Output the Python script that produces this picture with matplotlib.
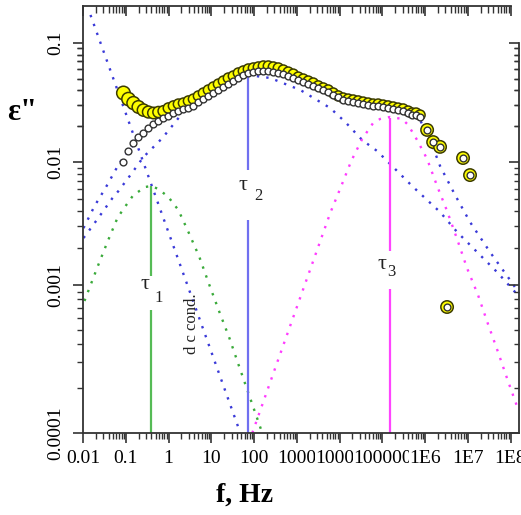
import numpy as np
import matplotlib
matplotlib.use("Agg")
import matplotlib.pyplot as plt
from matplotlib.ticker import FixedLocator, NullFormatter, FixedFormatter

plt.rcParams['font.family'] = ['Liberation Serif', 'DejaVu Serif']

# ---------------- data ----------------
freq = [0.0883, 0.1156, 0.151, 0.198, 0.259, 0.339, 0.444, 0.581, 0.760, 0.995,
        1.30, 1.70, 2.23, 2.92, 3.82, 5.00, 6.54, 8.56, 11.2, 14.7,
        19.2, 25.1, 32.8, 43.0, 56.2, 73.6, 96.4, 126, 165, 216,
        283, 370, 484, 633, 829, 1085, 1420, 1858, 2430, 3180,
        4160, 5450, 7130, 9330, 12200, 16000, 20900, 27400, 35800, 46900,
        61300, 80200, 105000, 137000, 180000, 235000, 308000, 403000, 499000, 619000, 767000,
        1.12e6, 1.55e6, 2.25e6, 3.28e6, 7.76e6, 1.13e7]

eps_total = [0.0380, 0.0338, 0.0313, 0.0290, 0.0273, 0.0263, 0.0258, 0.0263, 0.0268, 0.0284,
             0.0296, 0.0307, 0.0313, 0.0326, 0.0338, 0.0359, 0.0380, 0.0403, 0.0427, 0.0452,
             0.0479, 0.0508, 0.0528, 0.0560, 0.0582, 0.0605, 0.0617, 0.0629, 0.0641, 0.0641,
             0.0629, 0.0617, 0.0593, 0.0570, 0.0548, 0.0517, 0.0498, 0.0479, 0.0461, 0.0436,
             0.0419, 0.0403, 0.0380, 0.0359, 0.0345, 0.0338, 0.0332, 0.0326, 0.0319, 0.0313,
             0.0307, 0.0307, 0.0301, 0.0296, 0.0290, 0.0284, 0.0279, 0.0268, 0.0258, 0.0258, 0.0248,
             0.0186, 0.0147, 0.0134, 0.00071, 0.0108, 0.00783]

eps_corr = [0.0100, 0.01236, 0.01445, 0.0162, 0.0175, 0.0193, 0.0209, 0.0221, 0.0234, 0.0244,
            0.0258, 0.0268, 0.0279, 0.0284, 0.0296, 0.0319, 0.0338, 0.0359, 0.0380, 0.0403,
            0.0427, 0.0452, 0.0479, 0.0508, 0.0538, 0.0560, 0.0570, 0.0582, 0.0582, 0.0582,
            0.0570, 0.0560, 0.0548, 0.0528, 0.0508, 0.0489, 0.0470, 0.0452, 0.0436, 0.0419,
            0.0403, 0.0387, 0.0366, 0.0352,
            0.0332, 0.0326, 0.0319, 0.0313, 0.0307, 0.0301, 0.0296, 0.0296, 0.0290, 0.0284,
            0.0279, 0.0273, 0.0268, 0.0258, 0.0248, 0.0248, 0.0239,
            0.0186, 0.0147, 0.0134, 0.00071, 0.0108, 0.00783]

# dc conduction line
dc_f = [0.01496, 2.765, 47.9]
dc_e = [0.172, 0.001, 1e-4]

# relaxation tau1 (green)
t1_f = [0.01083, 0.0218, 0.0373, 0.0640, 0.0883, 0.151, 0.289, 0.398, 0.581, 0.995,
        1.70, 2.92, 5.27, 9.03, 15.5, 26.5, 45.4, 156]
t1_e = [0.00078, 0.0014, 0.00224, 0.00351, 0.00415, 0.00539, 0.00627, 0.00638, 0.00603, 0.00519,
        0.00407, 0.00270, 0.00169, 0.001, 0.000657, 0.000439, 0.000279, 1e-4]

# relaxation tau2 (blue)
t2_f = [0.01027, 0.01667, 0.0286, 0.0489, 0.0675, 0.129, 0.259, 0.378, 0.719, 1.45,
        2.11, 5.56, 16.3, 73.6, 240, 1208, 6070, 13600, 33900, 76000,
        170000, 499000, 1.12e6, 2.25e6, 5.62e6, 1.74e7, 5.11e7, 1.27e8, 1.58e8]
t2_e = [0.00241, 0.00302, 0.00392, 0.00509, 0.00581, 0.00784, 0.0110, 0.0126, 0.0159, 0.0217,
        0.0258, 0.0352, 0.0452, 0.0538, 0.0508, 0.0403, 0.0284, 0.0217, 0.0153, 0.01236,
        0.00928, 0.00638, 0.00491, 0.00392, 0.00270, 0.00182, 0.00125, 0.000897, 0.000843]

# relaxation tau3 (magenta)
t3_f = [91.2, 332, 6070, 11000, 18800, 33900, 61300, 89300, 153000, 292000,
        403000, 653000, 1.12e6, 1.92e6, 3.28e6, 5.62e6, 9.63e6, 1.74e7, 2.98e7, 5.11e7,
        8.75e7, 1.50e8]
t3_e = [1e-4, 0.000288, 0.00385, 0.00638, 0.01019, 0.0156, 0.0213, 0.0230, 0.0239, 0.0230,
        0.0205, 0.0153, 0.0106, 0.00638, 0.00400, 0.00237, 0.00137, 0.000855, 0.000544, 0.000352,
        0.000224, 0.000145]

# sum of relaxations (blue)
fit_f = [0.01027, 0.01858, 0.0336, 0.0713, 0.0984, 0.1687, 0.378, 0.847, 1.90, 5.56,
         16.3, 47.9, 140, 411, 1208, 3540, 10400, 30500, 89300, 262000,
         767000, 1.32e6, 2.25e6, 5.05e6, 1.13e7, 3.32e7, 9.73e7, 1.58e8]
fit_e = [0.00290, 0.00438, 0.00615, 0.00982, 0.01146, 0.01472, 0.0193, 0.0234, 0.0273, 0.0332,
         0.0427, 0.0518, 0.0582, 0.0560, 0.0489, 0.0410, 0.0345, 0.0313, 0.0296, 0.0273,
         0.0225, 0.0153, 0.00928, 0.00539, 0.00325, 0.00185, 0.00110, 0.000883]

# relaxation times markers (vertical lines)
tau_freq = [0.398, 73.6, 153000]
tau_top = [0.0064, 0.0518, 0.0234]
tau_gap_hi = [0.00118, 0.0086, 0.00189]
tau_gap_lo = [0.000678, 0.00338, 0.00094]

xtick_vals = [0.01, 0.1, 1, 10, 100, 1000, 10000, 100000, 1e6, 1e7, 1e8]
xtick_labels = ['0.01', '0.1', '1', '10', '100', '1000', '10000', '100000', '1E6', '1E7', '1E8']
ytick_vals = [1e-4, 1e-3, 1e-2, 1e-1]
ytick_labels = ['0.0001', '0.001', '0.01', '0.1']

# ---------------- y scale (piecewise log, as in the picture) ----------------
_LOG = np.array([-6.0, -4.0, -3.0, -2.0, -1.0, 1.0])
_PIX = np.array([433 + 2 * 148, 433, 285, 162, 43, 43 - 2 * 119], dtype=float)


def fwd(y):
    y = np.asarray(y, dtype=float)
    with np.errstate(divide='ignore', invalid='ignore'):
        v = np.log10(np.where(y > 0, y, 1e-12))
    return -np.interp(v, _LOG, _PIX)


def inv(u):
    u = np.asarray(u, dtype=float)
    v = np.interp(-u, _PIX[::-1], _LOG[::-1])
    return 10.0 ** v


W, H = 521, 515
fig = plt.figure(figsize=(W / 100, H / 100), dpi=100)
ax = fig.add_axes([83 / W, 1 - 433 / H, 436 / W, 427 / H])
ax.set_xscale('log')
ax.set_yscale('function', functions=(fwd, inv))
XLIM = (0.01, 1.58e8)
YLIM = (1e-4, 0.2046)
ax.set_xlim(*XLIM)
ax.set_ylim(*YLIM)

blue = '#3a3ad8'
green = '#3aaa3a'
magenta = '#ff3cff'
dot = (0, (1, 3.0))
lw = 1.7

ax.plot(dc_f, dc_e, color=blue, lw=lw, ls=dot, zorder=2)
ax.plot(t1_f, t1_e, color=green, lw=lw, ls=dot, zorder=2)
ax.plot(t2_f, t2_e, color=blue, lw=lw, ls=dot, zorder=2)
ax.plot(fit_f, fit_e, color=blue, lw=lw, ls=dot, zorder=2)
ax.plot(t3_f, t3_e, color=magenta, lw=lw, ls=dot, zorder=2)

vcols = ['#55bb55', '#7070f0', '#ff44ff']
for f, top, ghi, glo, c in zip(tau_freq, tau_top, tau_gap_hi, tau_gap_lo, vcols):
    ax.plot([f, f], [top, ghi], color=c, lw=1.6, solid_capstyle='butt', zorder=2)
    ax.plot([f, f], [glo, 1e-4], color=c, lw=1.6, solid_capstyle='butt', zorder=2)

# labels of relaxation times
ax.text(0.288, 0.001, 'τ', fontsize=16, ha='center', va='center', color='#222')
ax.text(0.60, 0.00082, '1', fontsize=12, ha='center', va='center', color='#222')
ax.text(56.2, 0.0065, 'τ', fontsize=16, ha='center', va='center', color='#222')
ax.text(130, 0.0053, '2', fontsize=12, ha='center', va='center', color='#222')
ax.text(99500, 0.00146, 'τ', fontsize=16, ha='center', va='center', color='#222')
ax.text(165000, 0.00127, '3', fontsize=12, ha='center', va='center', color='#222')
ax.text(3.61, 0.00055, 'd c cond.', fontsize=12, rotation=90, ha='center', va='center', color='#222')

# data points
n = len(freq)
idx = np.arange(n)
ysizes = np.where(idx < 10, np.interp(idx, [0, 9], [95, 55]), 52.0)
ysizes = np.where(idx > 60, 80.0, ysizes)
ax.scatter(freq, eps_total, s=ysizes, facecolor='#ffff00', edgecolor='#3c3c00',
           linewidths=1.1, zorder=4)
ax.scatter(freq, eps_corr, s=24, facecolor='white', edgecolor='#333333',
           linewidths=1.0, zorder=5)

# ---------------- axes, ticks ----------------
xminor = [k * 10.0 ** e for e in range(-2, 8) for k in range(2, 10)]
xminor = [v for v in xminor if v < XLIM[1]]
yminor = [k * 10.0 ** e for e in range(-4, -1) for k in range(2, 10)]
yminor += [k * 0.01 for k in range(2, 10)]

ax.xaxis.set_major_locator(FixedLocator(xtick_vals))
ax.xaxis.set_major_formatter(FixedFormatter(xtick_labels))
ax.xaxis.set_minor_locator(FixedLocator(xminor))
ax.xaxis.set_minor_formatter(NullFormatter())
ax.yaxis.set_major_locator(FixedLocator(ytick_vals))
ax.yaxis.set_major_formatter(FixedFormatter(ytick_labels))
ax.yaxis.set_minor_locator(FixedLocator(yminor))
ax.yaxis.set_minor_formatter(NullFormatter())

tc = '#333333'
ax.tick_params(axis='x', which='major', direction='out', length=7, width=1.2,
               color=tc, labelsize=14, pad=5, top=False)
ax.tick_params(axis='x', which='minor', direction='out', length=4, width=1.0,
               color=tc, top=False)
ax.tick_params(axis='y', which='major', direction='out', length=7.5, width=1.2,
               color=tc, labelsize=14, pad=6, right=False, labelrotation=90)
ax.tick_params(axis='y', which='minor', direction='out', length=4.5, width=1.0,
               color=tc, right=False)
for lab in ax.get_yticklabels():
    lab.set_va('center')
for lab in ax.get_xticklabels():
    lab.set_bbox(dict(facecolor='white', edgecolor='none', pad=0))

for s in ax.spines.values():
    s.set_color(tc)
    s.set_linewidth(1.3)
ax.spines['top'].set_bounds(0.01, 1e8)
ax.spines['right'].set_bounds(1e-4, 0.1)

# top axis: inward ticks
axt = ax.twiny()
axt.set_xscale('log')
axt.set_xlim(*XLIM)
axt.xaxis.set_major_locator(FixedLocator(xtick_vals))
axt.xaxis.set_minor_locator(FixedLocator(xminor))
axt.xaxis.set_minor_formatter(NullFormatter())
axt.tick_params(axis='x', which='major', direction='in', length=7, width=1.2, color=tc,
                labeltop=False, labelbottom=False, top=True, bottom=False)
axt.tick_params(axis='x', which='minor', direction='in', length=5, width=1.0, color=tc,
                top=True, bottom=False)
for s in axt.spines.values():
    s.set_visible(False)

# right axis: inward ticks
axr = ax.twinx()
axr.set_yscale('function', functions=(fwd, inv))
axr.set_ylim(*YLIM)
axr.yaxis.set_major_locator(FixedLocator(ytick_vals))
axr.yaxis.set_minor_locator(FixedLocator(yminor))
axr.yaxis.set_minor_formatter(NullFormatter())
axr.tick_params(axis='y', which='major', direction='in', length=7, width=1.2, color=tc,
                labelright=False, labelleft=False, right=True, left=False)
axr.tick_params(axis='y', which='minor', direction='in', length=3.5, width=1.0, color=tc,
                right=True, left=False)
for s in axr.spines.values():
    s.set_visible(False)

fig.text(22 / W, 1 - 112 / H, 'ε"', fontsize=22, fontweight='bold', ha='center', va='center')
fig.text(245 / W, 1 - 495 / H, 'f, Hz', fontsize=20, fontweight='bold', ha='center', va='center')

fig.savefig('out.png', dpi=100)
